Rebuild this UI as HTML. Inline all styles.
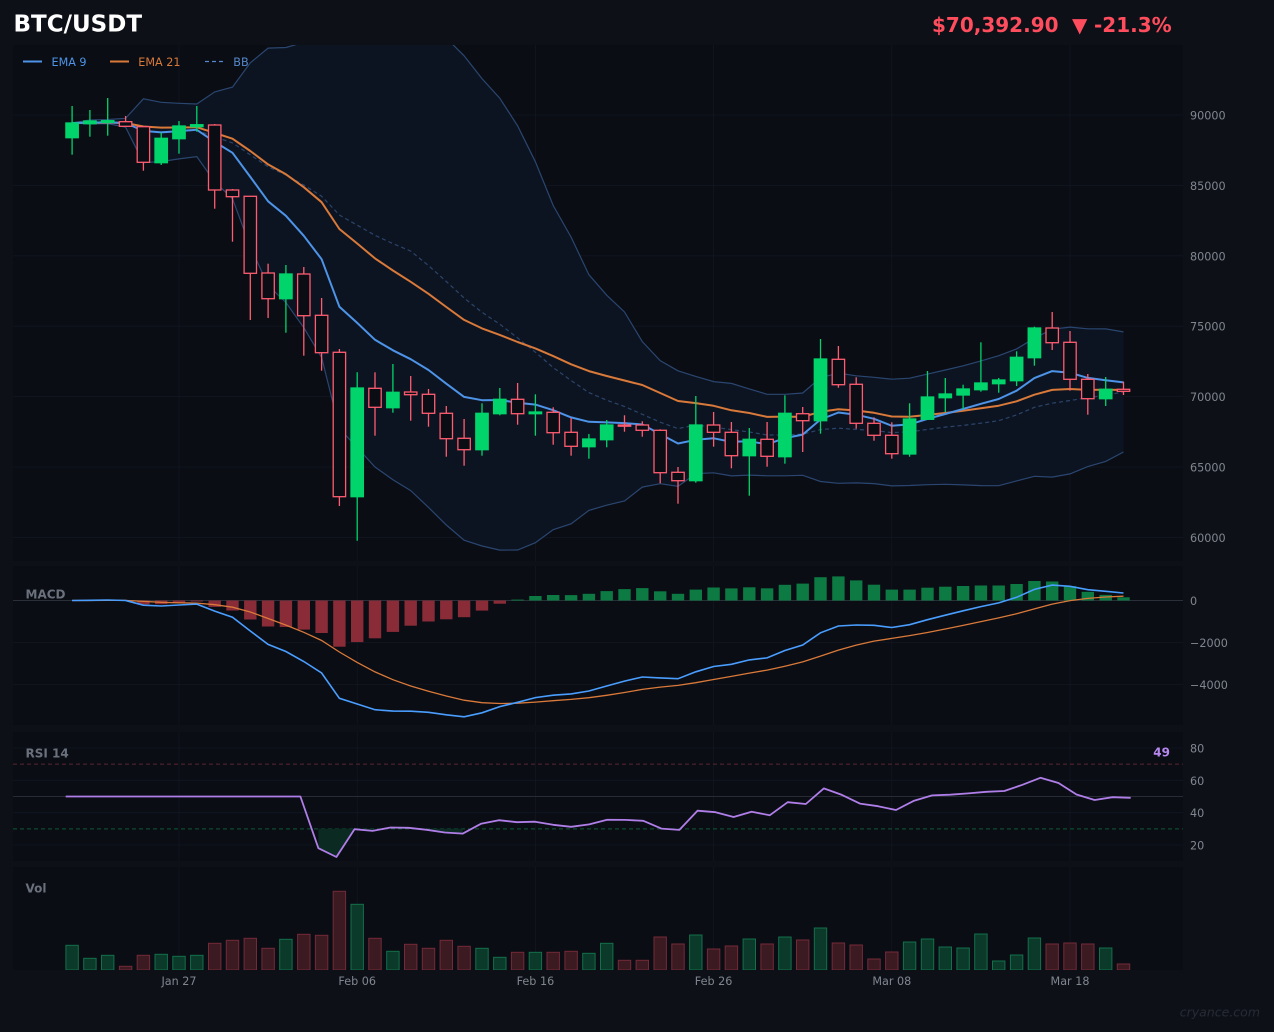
<!DOCTYPE html>
<html><head><meta charset="utf-8">
<style>
html,body{margin:0;padding:0;background:#0d1017;width:1274px;height:1032px;overflow:hidden}
svg{display:block}
text{font-family:"DejaVu Sans","Liberation Sans",sans-serif}
</style></head><body>
<svg id="c" width="1274" height="1032" viewBox="0 0 1274 1032" xmlns="http://www.w3.org/2000/svg">
<defs>
<clipPath id="cm"><rect x="13" y="45" width="1170" height="516"/></clipPath>
<clipPath id="cd"><rect x="13" y="566" width="1170" height="159"/></clipPath>
<clipPath id="cr"><rect x="13" y="732" width="1170" height="129"/></clipPath>
<clipPath id="cv"><rect x="13" y="867" width="1170" height="103"/></clipPath>
</defs>
<rect width="1274" height="1032" fill="#0d1017"/>
<rect x="13" y="45" width="1170" height="516" fill="#0a0d14"/>
<rect x="13" y="566" width="1170" height="159" fill="#0a0d14"/>
<rect x="13" y="732" width="1170" height="129" fill="#0a0d14"/>
<rect x="13" y="867" width="1170" height="103" fill="#0a0d14"/>
<g id="dyn"></g>
<!-- header -->
<text x="13.5" y="31.7" font-size="23" font-weight="bold" fill="#ffffff">BTC/USDT</text>
<text x="932" y="32" font-size="20" font-weight="bold" fill="#ff4d5e">$70,392.90</text>
<text x="1072" y="32" font-size="20" font-weight="bold" fill="#ff4d5e">▼</text>
<text x="1094" y="32" font-size="20" font-weight="bold" fill="#ff4d5e">-21.3%</text>
<!-- legend -->
<line x1="23" y1="61.5" x2="42" y2="61.5" stroke="#4d94e8" stroke-width="2"/>
<text x="51.5" y="66" font-size="11.2" fill="#4d94e8">EMA 9</text>
<line x1="110" y1="61.5" x2="129" y2="61.5" stroke="#d9793a" stroke-width="2"/>
<text x="138.3" y="66" font-size="11.2" fill="#d9793a">EMA 21</text>
<line x1="205" y1="61.5" x2="224" y2="61.5" stroke="#5588cc" stroke-width="1.3" stroke-dasharray="4,3"/>
<text x="233.3" y="66" font-size="11.2" fill="#5588cc">BB</text>
<!-- price axis -->
<g font-size="11.2" fill="#80868f">
<text x="1190" y="119.5">90000</text>
<text x="1190" y="189.9">85000</text>
<text x="1190" y="260.3">80000</text>
<text x="1190" y="330.7">75000</text>
<text x="1190" y="401.1">70000</text>
<text x="1190" y="471.5">65000</text>
<text x="1190" y="541.9">60000</text>
<text x="1190" y="605">0</text>
<text x="1190" y="647">−2000</text>
<text x="1190" y="689">−4000</text>
<text x="1190" y="752.5">80</text>
<text x="1190" y="784.8">60</text>
<text x="1190" y="817.2">40</text>
<text x="1190" y="849.5">20</text>
</g>
<g font-size="11.2" fill="#80868f" text-anchor="middle">
<text x="179" y="985">Jan 27</text>
<text x="357.2" y="985">Feb 06</text>
<text x="535.4" y="985">Feb 16</text>
<text x="713.6" y="985">Feb 26</text>
<text x="891.8" y="985">Mar 08</text>
<text x="1070" y="985">Mar 18</text>
</g>
<g font-size="12" font-weight="bold" fill="#6b717c">
<text x="25.5" y="598.3">MACD</text>
<text x="25.5" y="757.3">RSI 14</text>
<text x="25.5" y="892.7">Vol</text>
</g>
<text x="1170" y="756.7" font-size="12" font-weight="bold" fill="#b787f0" text-anchor="end">49</text>
<text x="1260" y="1016.7" font-size="12.5" font-style="italic" fill="#262b35" text-anchor="end">cryance.com</text>
</svg>
<script>
(function(){
const C=[
[1,123,137.7,106,154.7],[1,121,123.7,110,136.7],[1,120.7,122.3,98,135.7],[0,121.7,126.3,116,126.3],
[0,126.7,162.3,126,170.7],[1,138.3,162.7,132.7,165],[1,126,138.7,121,153.7],[1,124.7,126.7,106,131.7],
[0,125,190,124,208.7],[0,190,196.7,189,241.7],[0,196.3,273.3,196.3,320],[0,273,298.7,263.7,318],
[1,274,298.7,265,332.7],[0,274,315.7,267,355.7],[0,315.3,352.7,298,370.7],[0,352.3,496.7,349,506],
[1,388,496.7,372.3,540.7],[0,388.3,407.3,372.3,435.7],[1,392.3,407.7,364,412.7],[0,392,394.7,376,420.7],
[0,394.3,413.3,389,426.7],[0,413.3,438.7,406,456.7],[0,438.3,449.7,419,465.7],[1,413.3,449.7,403.3,455.7],
[1,399.3,413.7,388,415.3],[0,399.3,413.7,383,424.7],[1,412,413.7,394.3,435.7],[0,412.3,432.7,407.3,444.7],
[0,432.3,446.3,418,455.7],[1,439,446.7,434,458.7],[1,425,439.7,420,447.3],[0,425,425.7,415.3,431.7],
[0,425,430.3,421.3,436.7],[0,430.3,472.7,429.3,483.3],[0,472.3,480.7,467,503.7],[1,425,480.7,396,482.7],
[0,425,432.3,412,446.7],[0,432.3,455.7,422,468.3],[1,439.3,455.7,428,495.7],[0,439.3,456.3,422,466.7],
[1,413.3,456.7,395.3,463.7],[0,413.7,420.7,407,452],[1,359,420.7,339,433.7],[0,359.3,384.7,346,387.7],
[0,384.3,423.3,377.3,428.7],[0,423.3,435.3,417.3,440.7],[0,435.3,453.7,422.3,458.7],[1,419,454,403.3,456.7],
[1,397,419.3,371,420],[1,394,397.7,378,412],[1,389,395,384.7,409],[1,383,389.7,342.3,391.7],
[1,380,383.7,378,392.7],[1,357.3,380.7,351.3,386],[1,328,357.7,326.7,365.7],[0,328,342.7,312,350],
[0,342.3,379.3,331,390.7],[0,379.3,398.7,374,414.7],[1,389.3,398.7,377,406],[0,389.3,391.3,381.7,395]];
const V=[945.3,958.3,955.3,966.3,955.3,954.3,956.3,955.3,943.3,940.3,938.3,948.3,939.3,934.3,935.3,891.3,904.3,938.3,951.3,944.3,948.3,940.3,946.3,948.3,957.3,952.3,952.3,952.3,951.3,953.3,943.3,960.3,960.3,937,944,935,949,946,939,944,937,940,928,943,945,959,952,942,939,947,948,934,961,955,938,944,943,944,948,964];
const N=C.length;
const X=i=>72.1+i*17.82;
const XR=i=>65.7+i*18.05;
const py2p=y=>90000-(y-115)/0.01408;
const close=C.map(c=>c[0]?c[1]:c[2]);
function ema(a,span){const k=2/(span+1);const o=[a[0]];for(let i=1;i<a.length;i++)o.push(k*a[i]+(1-k)*o[i-1]);return o;}
const e9=ema(close,9),e21=ema(close,21);
const mid=[],up=[],lo=[];
for(let i=0;i<N;i++){const w=close.slice(Math.max(0,i-19),i+1);const m=w.reduce((a,b)=>a+b,0)/w.length;
 const sd=Math.sqrt(w.reduce((a,b)=>a+(b-m)*(b-m),0)/w.length);mid.push(m);up.push(m-2*sd);lo.push(m+2*sd);}
const cp=close.map(py2p);
const e12=ema(cp,12),e26=ema(cp,26);
const macd=cp.map((_,i)=>e12[i]-e26[i]);
const sig=ema(macd,9);
const hist=macd.map((v,i)=>v-sig[i]);
const yM=v=>600.5-v*0.021;
const rsi=[];
let ag=0,al=0;
for(let i=0;i<N;i++){
 if(i<14){rsi.push(50);continue;}
 if(i===14){for(let j=1;j<=14;j++){const d=cp[j]-cp[j-1];if(d>0)ag+=d;else al-=d;}ag/=14;al/=14;}
 else{const d=cp[i]-cp[i-1];const g=d>0?d:0,l=d<0?-d:0;ag=(ag*13+g)/14;al=(al*13+l)/14;}
 rsi.push(al===0?100:100-100/(1+ag/al));
}
const yR=v=>748+(80-v)*1.6167;
const xs=[...Array(N).keys()].map(X);
const xr=[...Array(N).keys()].map(XR);
function pl(ys,attr,xx){xx=xx||xs;return '<polyline fill="none" points="'+xx.map((x,i)=>x.toFixed(1)+','+ys[i].toFixed(1)).join(' ')+'" '+attr+'/>';}
let s='';
const gx=[179,357.2,535.4,713.6,891.8,1070];
const gc='#121721';
s+='<g stroke="'+gc+'" stroke-width="0.8">';
gx.forEach(x=>{[[45,561],[566,725],[732,861],[867,970]].forEach(r=>{s+='<line x1="'+x+'" y1="'+r[0]+'" x2="'+x+'" y2="'+r[1]+'"/>';});});
[115,185.4,255.8,326.2,396.6,467,537.4,642.5,684.5,748,780.3,812.7,845].forEach(y=>{s+='<line x1="13" y1="'+y+'" x2="1183" y2="'+y+'"/>';});
s+='</g>';
s+='<g clip-path="url(#cm)">';
let poly=xs.map((x,i)=>x.toFixed(1)+','+up[i].toFixed(1)).join(' ')+' '+xs.slice().reverse().map((x,k)=>{const i=N-1-k;return x.toFixed(1)+','+lo[i].toFixed(1);}).join(' ');
s+='<polygon points="'+poly+'" fill="#0d1421"/>';
s+=pl(up,'stroke="#2a4670" stroke-width="1.2"');
s+=pl(lo,'stroke="#2a4670" stroke-width="1.2"');
s+=pl(mid,'stroke="#2a446a" stroke-width="1.2" stroke-dasharray="4,3"');
s+=pl(e21,'stroke="#d9793a" stroke-width="2" stroke-linejoin="round"');
s+=pl(e9,'stroke="#4d94e8" stroke-width="2" stroke-linejoin="round"');
C.forEach((c,i)=>{const x=X(i);const col=c[0]?'#00d46a':'#ff5c70';
 s+='<line x1="'+x.toFixed(1)+'" y1="'+c[3]+'" x2="'+x.toFixed(1)+'" y2="'+c[4]+'" stroke="'+col+'" stroke-width="1.3"/>';
 const h=Math.max(c[2]-c[1],1.2);
 s+='<rect x="'+(x-6.2).toFixed(1)+'" y="'+c[1]+'" width="12.4" height="'+h.toFixed(1)+'" fill="'+(c[0]?'#00d46a':'#0a0d14')+'" stroke="'+col+'" stroke-width="1.3"/>';
});
s+='</g>';
s+='<g clip-path="url(#cd)">';
s+='<line x1="13" y1="600.5" x2="1183" y2="600.5" stroke="#2a303a" stroke-width="1"/>';
hist.forEach((h,i)=>{const y=yM(h);const t=Math.min(y,600.5),b=Math.max(y,600.5);
 s+='<rect x="'+(X(i)-6.2).toFixed(1)+'" y="'+t.toFixed(1)+'" width="12.4" height="'+(b-t).toFixed(1)+'" fill="'+(h>=0?'#0c7a42':'#8a2b38')+'"/>';});
s+=pl(sig.map(yM),'stroke="#d9793a" stroke-width="1.3"');
s+=pl(macd.map(yM),'stroke="#4a9eff" stroke-width="1.6"');
s+='</g>';
s+='<g clip-path="url(#cr)">';
s+='<line x1="13" y1="'+yR(70)+'" x2="1183" y2="'+yR(70)+'" stroke="#5a2632" stroke-width="1" stroke-dasharray="4,3"/>';
s+='<line x1="13" y1="'+yR(30)+'" x2="1183" y2="'+yR(30)+'" stroke="#0f5a35" stroke-width="1" stroke-dasharray="4,3"/>';
s+='<line x1="13" y1="'+yR(50)+'" x2="1183" y2="'+yR(50)+'" stroke="#262b35" stroke-width="1"/>';
let i=0;
while(i<N){if(rsi[i]<30){let j=i;while(j+1<N&&rsi[j+1]<30)j++;
 let pts=[];for(let k=i;k<=j;k++)pts.push(XR(k).toFixed(1)+','+yR(rsi[k]).toFixed(1));
 pts.push(XR(j).toFixed(1)+','+yR(30).toFixed(1));pts.push(XR(i).toFixed(1)+','+yR(30).toFixed(1));
 s+='<polygon points="'+pts.join(' ')+'" fill="#0a2a22"/>';i=j+1;}else i++;}
s+=pl(rsi.map(yR),'stroke="#b07ee8" stroke-width="1.8" stroke-linejoin="round"',xr);
s+='</g>';
s+='<g clip-path="url(#cv)">';
V.forEach((t,i)=>{const g=C[i][0];
 s+='<rect x="'+(X(i)-6.2).toFixed(1)+'" y="'+t+'" width="12.4" height="'+(970-t).toFixed(1)+'" fill="'+(g?'#0b3a2a':'#3b1a22')+'" stroke="'+(g?'#13704a':'#742a38')+'" stroke-width="1"/>';});
s+='</g>';
document.getElementById('dyn').innerHTML=s;
})();
</script>
</body></html>
